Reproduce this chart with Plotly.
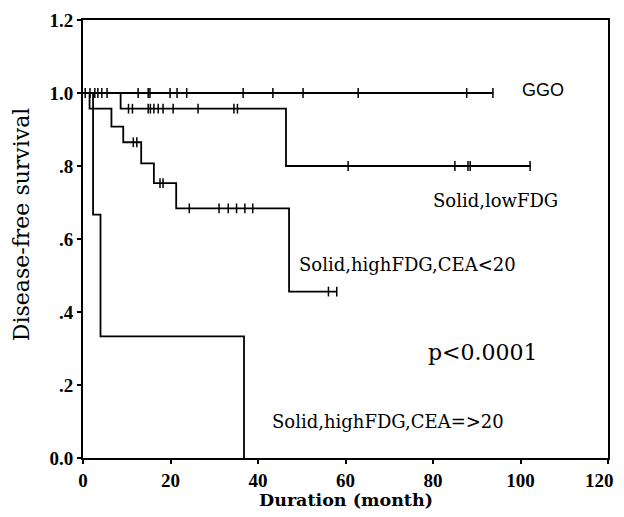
import plotly.graph_objects as go

# ---- data ----
ggo_times = [0]
ggo_surv = [1.0]
ggo_end = 93.7
ggo_censor = [0.5, 1.6, 2.7, 3.4, 4.3, 5.5, 12.6, 14.9, 15.3, 19.9, 21.5, 23.7,
              36.6, 43.4, 50.3, 62.9, 87.7, 93.7]

low_times = [0, 8.6, 46.4]
low_surv = [1.0, 0.957, 0.80]
low_end = 102.2
low_censor = [10.4, 11.3, 14.9, 15.4, 16.2, 17.2, 18.3, 20.6, 26.3, 34.5, 35.3,
              60.6, 85.0, 88.0, 88.5, 102.2]

cea_lo_times = [0, 1.5, 6.5, 9.2, 13.3, 16.2, 21.3, 47.1]
cea_lo_surv = [1.0, 0.957, 0.908, 0.865, 0.807, 0.753, 0.684, 0.456]
cea_lo_end = 58.0
cea_lo_censor = [11.5, 12.3, 17.6, 18.3, 24.3, 31.1, 33.2, 35.1, 37.0, 38.8, 56.1, 58.0]

cea_hi_times = [0, 2.3, 4.0, 36.8]
cea_hi_surv = [1.0, 0.667, 0.333, 0.0]
cea_hi_end = 36.8
cea_hi_censor = []

x_ticks = [0, 20, 40, 60, 80, 100, 120]
y_ticks = [0.0, 0.2, 0.4, 0.6, 0.8, 1.0, 1.2]
y_tick_labels = ["0.0", ".2", ".4", ".6", ".8", "1.0", "1.2"]

labels = ["GGO", "Solid,lowFDG", "Solid,highFDG,CEA<20", "Solid,highFDG,CEA=>20"]
label_pos = [(105.1, 1.008), (94.2, 0.705), (74.1, 0.529), (69.7, 0.100)]
p_text = "p<0.0001"
p_pos = (91.4, 0.288)
x_title = "Duration (month)"
y_title = "Disease-free survival"

SERIF = "DejaVu Serif, Liberation Serif, serif"
TSERIF = "Liberation Serif, DejaVu Serif, serif"
SANS = "Liberation Sans, Arial, sans-serif"


def step_value(times, surv, t):
    v = surv[0]
    for ti, si in zip(times, surv):
        if t >= ti:
            v = si
    return v


fig = go.Figure()
groups = [
    (ggo_times, ggo_surv, ggo_end, ggo_censor),
    (low_times, low_surv, low_end, low_censor),
    (cea_lo_times, cea_lo_surv, cea_lo_end, cea_lo_censor),
    (cea_hi_times, cea_hi_surv, cea_hi_end, cea_hi_censor),
]
for times, surv, end, cens in groups:
    xs = list(times) + [end]
    ys = list(surv) + [surv[-1]]
    fig.add_trace(go.Scatter(x=xs, y=ys, mode="lines", line_shape="hv",
                             line=dict(color="black", width=1.8),
                             showlegend=False, hoverinfo="skip"))
    if cens:
        fig.add_trace(go.Scatter(
            x=cens, y=[step_value(times, surv, c) for c in cens], mode="markers",
            marker=dict(symbol="line-ns", size=7,
                        line=dict(color="black", width=1.5)),
            showlegend=False, hoverinfo="skip"))

for txt, (x, y) in zip(labels, label_pos):
    if txt == "GGO":
        f = dict(family=SANS, size=18, color="black")
    else:
        f = dict(family=SERIF, size=18, color="black")
    fig.add_annotation(x=x, y=y, text=txt, showarrow=False, font=f)
fig.add_annotation(x=p_pos[0], y=p_pos[1], text=p_text, showarrow=False,
                   font=dict(family=SERIF, size=22, color="black"))

# axis titles as paper-anchored annotations for exact placement
fig.add_annotation(xref="paper", yref="paper", x=0.5, y=0, yshift=-42,
                   text="<b>" + x_title + "</b>", showarrow=False,
                   xanchor="center", yanchor="middle",
                   font=dict(family=SERIF, size=17.5, color="black"))
fig.add_annotation(xref="paper", yref="paper", x=-0.118, y=0.534,
                   text=y_title, showarrow=False, textangle=-90,
                   xanchor="center", yanchor="middle",
                   font=dict(family=SERIF, size=22, color="black"))

# last x tick label drawn as annotation nudged left so it stays inside the page
x_ticktext = [str(v) for v in x_ticks[:-1]] + [""]
fig.add_annotation(x=x_ticks[-1], xref="x", yref="paper", y=0, yshift=-22,
                   xshift=-9, text="<b>" + str(x_ticks[-1]) + "</b>",
                   showarrow=False, xanchor="center", yanchor="middle",
                   font=dict(family=TSERIF, size=19, color="black"))

fig.update_layout(
    width=616, height=501,
    margin=dict(l=75, r=16, t=12, b=51),
    plot_bgcolor="white", paper_bgcolor="white",
    xaxis=dict(range=[0, 120], tickvals=x_ticks, ticktext=x_ticktext,
               automargin=False,
               showgrid=False, zeroline=False, showline=True, mirror=True,
               linecolor="black", linewidth=2, ticks="outside", ticklen=4,
               tickwidth=2, tickcolor="black",
               tickfont=dict(family=TSERIF, size=19, color="black", weight="bold")),
    yaxis=dict(range=[0, 1.2], tickvals=y_ticks, ticktext=y_tick_labels,
               automargin=False,
               showgrid=False, zeroline=False, showline=True, mirror=True,
               linecolor="black", linewidth=2, ticks="outside", ticklen=4,
               tickwidth=2, tickcolor="black",
               tickfont=dict(family=TSERIF, size=19, color="black", weight="bold")),
)

fig.write_html("out.html")
